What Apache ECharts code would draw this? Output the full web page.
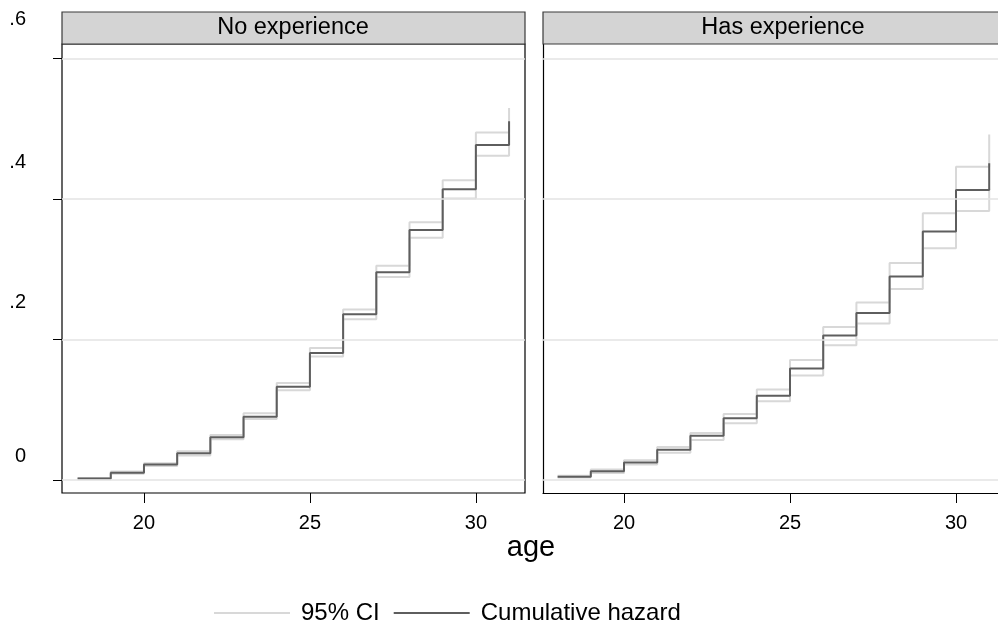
<!DOCTYPE html>
<html>
<head>
<meta charset="utf-8">
<script src="https://cdn.jsdelivr.net/npm/echarts@6/dist/echarts.min.js"></script>
<style>html,body{margin:0;padding:0;background:#fff}#c{width:998px;height:630px}</style>
</head>
<body>
<div id="c"></div>
<script>
// ---- data ----
const ages = [18,19,20,21,22,23,24,25,26,27,28,29,30,31];
const panelTitles = ['No experience','Has experience'];
const noExpHazard = [0.002,0.0104,0.022,0.038,0.061,0.090,0.133,0.181,0.236,0.296,0.356,0.414,0.477,0.511];
const noExpUpper  = [0.003,0.012,0.024,0.041,0.064,0.095,0.138,0.188,0.243,0.305,0.367,0.427,0.495,0.530];
const noExpLower  = [0.001,0.009,0.020,0.035,0.058,0.087,0.128,0.176,0.229,0.289,0.345,0.401,0.462,0.492];
const hasExpHazard = [0.0047,0.0124,0.025,0.043,0.063,0.088,0.120,0.159,0.206,0.238,0.290,0.354,0.413,0.451];
const hasExpUpper  = [0.006,0.015,0.028,0.047,0.067,0.094,0.129,0.171,0.218,0.253,0.309,0.380,0.446,0.492];
const hasExpLower  = [0.0035,0.010,0.022,0.039,0.057,0.081,0.112,0.149,0.192,0.223,0.272,0.330,0.383,0.415];
const xTicks = [20,25,30];
const yTicks = [0,0.2,0.4,0.6];
const yTickLabels = ['0','.2','.4','.6'];
const xTitle = 'age';
const ciName = '95% CI';
const hazName = 'Cumulative hazard';

// ---- styles ----
const FONT = '"Liberation Sans", Arial, Helvetica, sans-serif';
const CI_COLOR = '#d8d8d8';
const HAZ_COLOR = '#5e5e5e';
const GRID_COLOR = '#e3e3e3';
const yLabelLift = [24,37,37,39];

const zip = arr => ages.map((a,i)=>[a,arr[i]]);

const chart = echarts.init(document.getElementById('c'), null, {renderer:'canvas'});

const grids = [
  {left:62, top:44, width:463, height:449, show:true, borderColor:'#000', borderWidth:1.2},
  {left:543, top:44, width:455, height:449, show:false}
];
const xRange = [[17.53, 31.48],[17.56, 31.265]];
function xAxisFor(i){
  return {
    type:'value', gridIndex:i, min:xRange[i][0], max:xRange[i][1],
    axisLine:{show:i===1, onZero:false, lineStyle:{color:'#000', width:1.2}},
    axisTick:{show:true, customValues:xTicks, length:10, lineStyle:{color:'#000', width:1}},
    axisLabel:{show:true, customValues:xTicks, color:'#000', fontSize:20, fontFamily:FONT, margin:20},
    splitLine:{show:false}
  };
}
function yAxisFor(i){
  return {
    type:'value', gridIndex:i, min:-0.0185, max:0.621,
    axisLine:{show:i===1, onZero:false, lineStyle:{color:'#000', width:1.2}},
    axisTick:{show:i===0, customValues:yTicks, length:9, lineStyle:{color:'#000', width:1}},
    axisLabel:{show:false},
    splitLine:{show:false}
  };
}
function panelSeries(i, hz, up, lo){
  const base = {type:'line', xAxisIndex:i, yAxisIndex:i, step:'end', symbol:'none', showSymbol:false, silent:true, animation:false};
  return [
    {type:'line', xAxisIndex:i, yAxisIndex:i, data:[], silent:true, z:1,
      markLine:{silent:true, symbol:'none', label:{show:false}, animation:false,
        lineStyle:{color:GRID_COLOR, width:1.5, type:'solid'},
        data: yTicks.map(v=>({yAxis:v}))}},
    Object.assign({}, base, {name:ciName, data:zip(up), lineStyle:{color:CI_COLOR, width:2}, itemStyle:{color:CI_COLOR}, z:2}),
    Object.assign({}, base, {name:ciName, data:zip(lo), lineStyle:{color:CI_COLOR, width:2}, itemStyle:{color:CI_COLOR}, z:2}),
    Object.assign({}, base, {name:hazName, data:zip(hz), lineStyle:{color:HAZ_COLOR, width:2}, itemStyle:{color:HAZ_COLOR}, z:3})
  ];
}

const option = {
  backgroundColor:'#fff',
  animation:false,
  grid: grids.map(g=>Object.assign({backgroundColor:'#fff', containLabel:false}, g)),
  xAxis:[xAxisFor(0), xAxisFor(1)],
  yAxis:[yAxisFor(0), yAxisFor(1)],
  legend:{
    data:[{name:ciName, icon:'rect', itemStyle:{color:CI_COLOR}}, {name:hazName, icon:'rect', itemStyle:{color:HAZ_COLOR}}],
    left:209, top:596, itemWidth:76, itemHeight:2, itemGap:14,
    textStyle:{color:'#000', fontSize:24, fontFamily:FONT, padding:[0,0,0,6]},
    selectedMode:false
  },
  series:[].concat(panelSeries(0, noExpHazard, noExpUpper, noExpLower), panelSeries(1, hasExpHazard, hasExpUpper, hasExpLower))
};
chart.setOption(option);

// strips, titles and y labels
const graphics = [];
const stripDefs = [{x:62, w:463, cx:293}, {x:543, w:480, cx:783}];
stripDefs.forEach((s,i)=>{
  graphics.push({type:'rect', shape:{x:s.x, y:12, width:s.w, height:32}, style:{fill:'#d4d4d4', stroke:'#3a3a3a', lineWidth:1.2}, z:10});
  graphics.push({type:'text', x:s.cx, y:28, style:{text:panelTitles[i], font:'23.5px '+FONT, fill:'#000', align:'center', verticalAlign:'middle'}, z:11});
});
yTicks.forEach((v,i)=>{
  const py = chart.convertToPixel({yAxisIndex:0}, v);
  graphics.push({type:'text', x:26, y:py - yLabelLift[i], style:{text:yTickLabels[i], font:'20px '+FONT, fill:'#000', align:'right', verticalAlign:'middle'}, z:11});
});
graphics.push({type:'text', x:531, y:548, style:{text:xTitle, font:'29px '+FONT, fill:'#000', align:'center', verticalAlign:'middle'}, z:11});
chart.setOption({graphic:graphics});
</script>
</body>
</html>
